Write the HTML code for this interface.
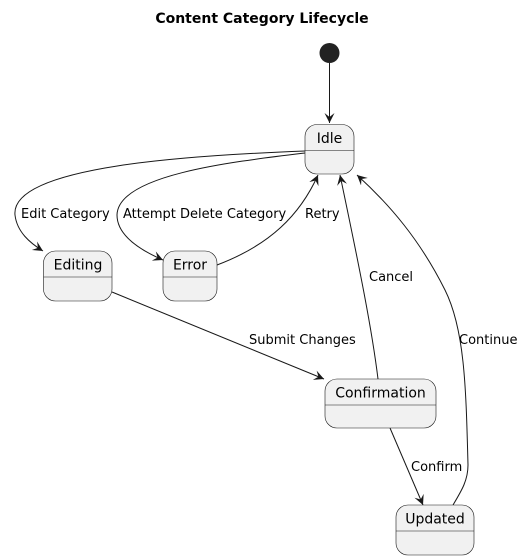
<!DOCTYPE html>
<html><head><meta charset="utf-8"><style>html,body{margin:0;padding:0;background:#fff}svg{display:block}</style></head><body>
<svg width="524" height="560" viewBox="0 0 524 560" xmlns="http://www.w3.org/2000/svg" font-family="DejaVu Sans, Liberation Sans, sans-serif">
<defs><marker id="a" markerWidth="12" markerHeight="12" refX="10" refY="5" orient="auto" markerUnits="userSpaceOnUse"><path d="M0,0 L10,5 L0,10 L4,5 Z" fill="#181818"/></marker></defs>
<text x="262" y="23" text-anchor="middle" font-weight="bold" font-size="14">Content Category Lifecycle</text>
<circle cx="329.5" cy="53" r="10" fill="#222"/>
<g fill="none" stroke="#181818" stroke-width="1">
<path d="M329.5,63 L329.5,123" marker-end="url(#a)"/>
<path d="M305,151 C200,155 10,165 15,215 C17,232 30,243 43,251" marker-end="url(#a)"/>
<path d="M305,153 C230,162 118,175 117,215 C117,235 140,250 163,260" marker-end="url(#a)"/>
<path d="M217,265 C270,245 300,215 318,175" marker-end="url(#a)"/>
<path d="M378,379 C372,330 360,270 340,175" marker-end="url(#a)"/>
<path d="M453,505 C462,490 468,480 468,465 C466,390 465,330 445,290 C420,240 390,205 357,175" marker-end="url(#a)"/>
<path d="M112,292 L324,379" marker-end="url(#a)"/>
<path d="M390,428 L423,505" marker-end="url(#a)"/>
</g>
<g font-size="13" fill="#000">
<text x="21" y="218">Edit Category</text>
<text x="123" y="218">Attempt Delete Category</text>
<text x="305" y="218">Retry</text>
<text x="369" y="281">Cancel</text>
<text x="459" y="344">Continue</text>
<text x="249" y="344">Submit Changes</text>
<text x="411" y="471">Confirm</text>
</g>
<g fill="#f1f1f1" stroke="#181818" stroke-width="0.6">
<rect x="305" y="124.5" width="49" height="49.5" rx="12"/>
<rect x="43.5" y="251" width="68.5" height="50" rx="12"/>
<rect x="163" y="251" width="54" height="50" rx="12"/>
<rect x="325" y="379" width="111" height="49" rx="12"/>
<rect x="396" y="505" width="78" height="50" rx="12"/>
<path d="M305,150.5H354M43.5,277H112M163,277H217M325,405H436M396,531H474"/>
</g>
<g font-size="14" fill="#000" text-anchor="middle">
<text x="329.5" y="143">Idle</text>
<text x="78" y="240" dy="29.5">Editing</text>
<text x="190" y="269.5">Error</text>
<text x="380.5" y="397.5">Confirmation</text>
<text x="435" y="523.5">Updated</text>
</g>
</svg>
</body></html>
